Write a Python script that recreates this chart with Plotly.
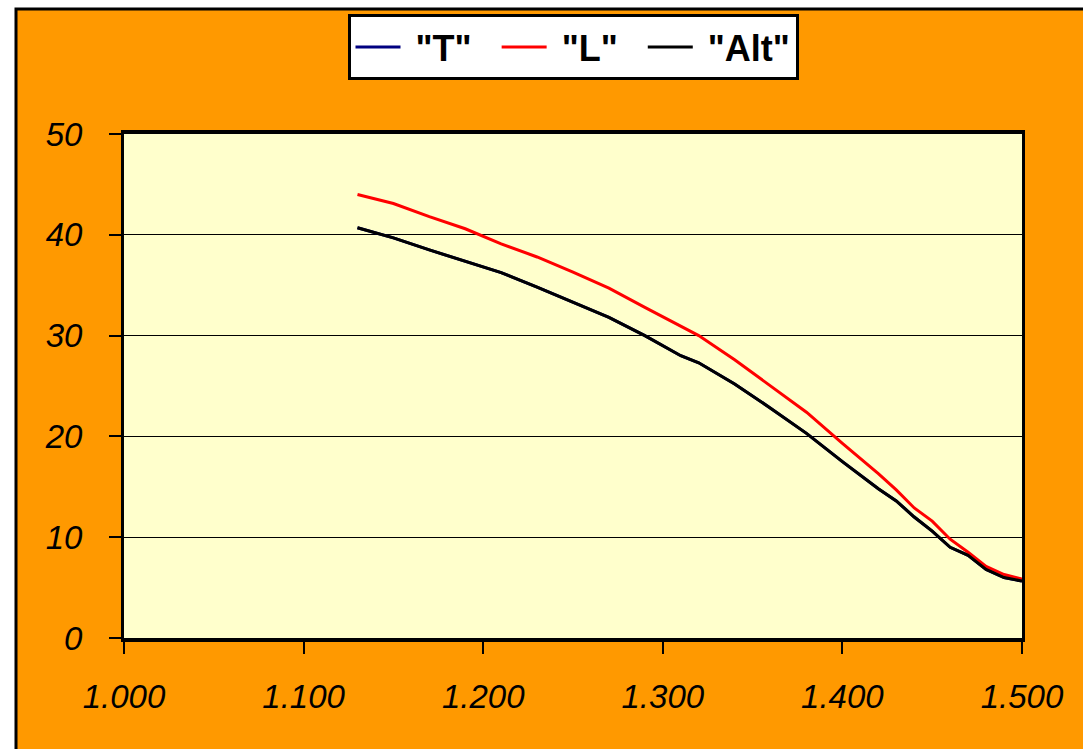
import plotly.graph_objects as go

x_vals = [1.13, 1.15, 1.17, 1.19, 1.21, 1.23, 1.25, 1.27, 1.29, 1.31, 1.32, 1.34,
          1.36, 1.38, 1.40, 1.42, 1.43, 1.44, 1.45, 1.46, 1.47, 1.48, 1.49, 1.50]
L_vals = [44.0, 43.1, 41.8, 40.6, 39.1, 37.8, 36.3, 34.7, 32.8, 30.9, 30.0, 27.6,
          25.0, 22.4, 19.3, 16.3, 14.7, 12.9, 11.6, 9.8, 8.5, 7.1, 6.3, 5.85]
Alt_vals = [40.7, 39.7, 38.5, 37.35, 36.25, 34.8, 33.3, 31.8, 30.0, 28.0, 27.3, 25.2,
            22.8, 20.3, 17.5, 14.8, 13.6, 12.0, 10.6, 9.0, 8.2, 6.8, 6.0, 5.65]
T_vals = list(Alt_vals)  # hidden beneath "Alt"
series_names = ['"T"', '"L"', '"Alt"']
x_ticks = [1.0, 1.1, 1.2, 1.3, 1.4, 1.5]
y_ticks = [0, 10, 20, 30, 40, 50]

W, H = 1083, 749
L_M, R_M, T_M, B_M = 124, 61, 134, 111
pw, ph = W - L_M - R_M, H - T_M - B_M

def px_x(p):
    return (p - L_M) / pw

def px_y(p):
    return (H - B_M - p) / ph

NB = "\u00a0"
fig = go.Figure()
fig.add_trace(go.Scatter(x=x_vals, y=T_vals, name=NB + series_names[0] + NB * 2, mode="lines",
                         line=dict(color="#000080", width=3)))
fig.add_trace(go.Scatter(x=x_vals, y=L_vals, name=NB + series_names[1] + NB * 2, mode="lines",
                         line=dict(color="#FF0000", width=3)))
fig.add_trace(go.Scatter(x=x_vals, y=Alt_vals, name=NB + series_names[2], mode="lines",
                         line=dict(color="#000000", width=3)))

fig.add_shape(type="rect", xref="paper", yref="paper", layer="below",
              x0=px_x(16), x1=px_x(1110), y0=px_y(780), y1=px_y(9),
              fillcolor="#FF9900", line=dict(color="black", width=3))
fig.add_shape(type="rect", xref="paper", yref="paper", layer="below",
              x0=0, x1=1, y0=0, y1=1,
              fillcolor="#FFFFCC", line=dict(width=0))

axis_font = dict(family="Liberation Sans, Arial, sans-serif", color="black")
fig.update_layout(
    width=W, height=H,
    margin=dict(l=L_M, r=R_M, t=T_M, b=B_M),
    paper_bgcolor="white",
    plot_bgcolor="#FFFFCC",
    showlegend=True,
    legend=dict(orientation="h", x=0.5, xanchor="center", y=px_y(14), yanchor="top",
                bgcolor="white", bordercolor="black", borderwidth=3,
                font=dict(family="Liberation Sans, Arial, sans-serif", size=36,
                          color="black", weight="bold"),
                itemwidth=45, tracegroupgap=0),
    xaxis=dict(range=[1.0, 1.5], tickvals=x_ticks, tickformat=".3f",
               showgrid=False, zeroline=False,
               showline=True, linecolor="black", linewidth=4, mirror=True,
               ticks="outside", ticklen=12, tickwidth=2, tickcolor="black",
               ticklabelstandoff=14,
               tickfont=dict(size=33, style="italic", **axis_font)),
    yaxis=dict(range=[0, 50], tickvals=y_ticks,
               showgrid=True, gridcolor="black", gridwidth=1, zeroline=False,
               showline=True, linecolor="black", linewidth=3, mirror=True,
               ticks="outside", ticklen=12, tickwidth=2, tickcolor="black",
               ticklabelstandoff=20,
               tickfont=dict(size=33, style="italic", **axis_font)),
)

fig.write_html("out.html")
